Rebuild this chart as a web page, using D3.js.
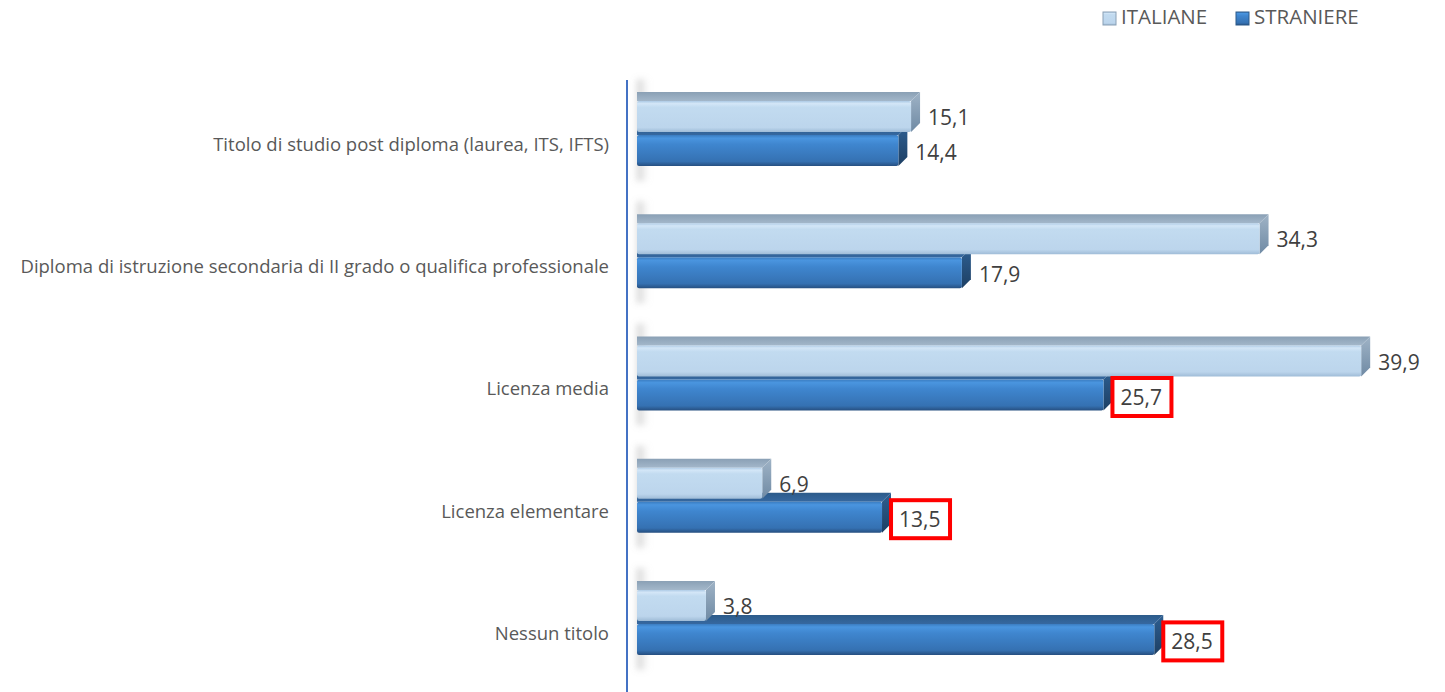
<!DOCTYPE html>
<html>
<head>
<meta charset="utf-8">
<script src="https://cdn.jsdelivr.net/npm/d3@7"></script>
<style>
  body { margin: 0; background: #fff; }
  #chart { width: 1445px; height: 692px; }
  text { font-family: "Open Sans", Lato, sans-serif; }
</style>
</head>
<body>
<div id="chart"></div>
<script>
(function () {

  // categories, top to bottom
  const categories = [
    'Titolo di studio post diploma (laurea, ITS, IFTS)',
    'Diploma di istruzione secondaria di II grado o qualifica professionale',
    'Licenza media',
    'Licenza elementare',
    'Nessun titolo'
  ];
  const series = ['ITALIANE', 'STRANIERE'];
  const italiane = [15.1, 34.3, 39.9, 6.9, 3.8];
  const straniere = [14.4, 17.9, 25.7, 13.5, 28.5];
  // labels boxed in red in the original
  const highlighted = [false, false, true, true, true];

  const width = 1445, height = 692;
  const dx = 9, dy = -9; // 3d depth offset

  const svg = d3.select('#chart').append('svg')
    .attr('width', width)
    .attr('height', height);

  const defs = svg.append('defs');

  function vGrad(id, stops) {
    const g = defs.append('linearGradient').attr('id', id)
      .attr('x1', 0).attr('y1', 0).attr('x2', 0).attr('y2', 1);
    stops.forEach(s => g.append('stop').attr('offset', s[0]).attr('stop-color', s[1]));
  }
  vGrad('lightFront', [[0, '#aecbe6'], [0.08, '#d3e6f7'], [0.2, '#c2dbf0'], [0.85, '#bcd5ec'], [1, '#9fbcd7']]);
  vGrad('lightTop', [[0, '#8aa0b5'], [1, '#a3b7ca']]);
  vGrad('lightSide', [[0, '#9fb3c6'], [1, '#6f8aa4']]);
  vGrad('darkFront', [[0, '#3a7cc0'], [0.1, '#4a95df'], [0.3, '#3f86cf'], [0.85, '#3571b2'], [1, '#264f80']]);
  vGrad('darkTop', [[0, '#2c5b8a'], [1, '#3668a0']]);
  vGrad('darkSide', [[0, '#2e5f92'], [1, '#1d3f63']]);

  const wall = defs.append('linearGradient').attr('id', 'wallShade')
    .attr('x1', 0).attr('y1', 0).attr('x2', 1).attr('y2', 0);
  wall.append('stop').attr('offset', 0).attr('stop-color', '#8c8c8c').attr('stop-opacity', 0.45);
  wall.append('stop').attr('offset', 1).attr('stop-color', '#bfbfbf').attr('stop-opacity', 0);
  defs.append('filter').attr('id', 'blur')
    .attr('x', -1).attr('y', -0.2).attr('width', 3).attr('height', 1.4)
    .append('feGaussianBlur').attr('stdDeviation', 3);

  // scales
  const x = d3.scaleLinear().domain([0, 40]).range([637, 1363]);
  const y = d3.scaleBand().domain(categories).range([73, 684])
    .paddingInner(0.46).paddingOuter(0.23);
  const ySub = d3.scaleBand().domain(series).range([0, y.bandwidth()]);

  const rows = categories.map((c, i) => ({
    cat: c,
    bars: [
      { key: 'ITALIANE', value: italiane[i], cls: 'light', hl: false },
      { key: 'STRANIERE', value: straniere[i], cls: 'dark', hl: highlighted[i] }
    ]
  }));

  // wall shading near the axis
  svg.append('g').selectAll('rect')
    .data(categories)
    .join('rect')
    .attr('x', x(0))
    .attr('y', d => y(d) - 22)
    .attr('width', 12)
    .attr('height', y.bandwidth() + 36)
    .attr('fill', 'url(#wallShade)')
    .attr('filter', 'url(#blur)');

  // axis line
  svg.append('line')
    .attr('x1', 627).attr('x2', 627)
    .attr('y1', 80).attr('y2', height)
    .attr('stroke', '#4472c4')
    .attr('stroke-width', 2);

  // category labels
  svg.append('g').selectAll('text')
    .data(categories)
    .join('text')
    .attr('x', 609)
    .attr('y', d => y(d) + y.bandwidth() / 2 + 12)
    .attr('text-anchor', 'end')
    .attr('dominant-baseline', 'middle')
    .attr('font-size', 18.5)
    .attr('fill', '#595959')
    .text(d => d);

  const groups = svg.append('g').selectAll('g')
    .data(rows)
    .join('g')
    .attr('transform', d => `translate(0,${y(d.cat)})`);

  const barH = ySub.bandwidth() - 2;

  // draw dark bar first so the light one sits on top of its top face
  const bars = groups.selectAll('g.bar')
    .data(d => d.bars.slice().reverse())
    .join('g')
    .attr('class', 'bar');

  bars.each(function (d) {
    const g = d3.select(this);
    const x0 = x(0), x1 = x(d.value);
    const y0 = ySub(d.key) + (d.key === 'STRANIERE' ? 1 : 0);
    const y1 = y0 + barH;
    // top face
    g.append('path')
      .attr('d', `M${x0},${y0} L${x1},${y0} L${x1 + dx},${y0 + dy} L${x0},${y0 + dy} Z`)
      .attr('fill', `url(#${d.cls}Top)`);
    // side face
    g.append('path')
      .attr('d', `M${x1},${y0} L${x1 + dx},${y0 + dy} L${x1 + dx},${y1 + dy} L${x1},${y1} Z`)
      .attr('fill', `url(#${d.cls}Side)`);
    // front face
    g.append('rect')
      .attr('x', x0).attr('y', y0)
      .attr('width', x1 - x0).attr('height', barH)
      .attr('rx', 2)
      .attr('fill', `url(#${d.cls}Front)`);
  });

  // value labels
  const labels = groups.selectAll('g.lab')
    .data(d => d.bars)
    .join('g')
    .attr('class', 'lab')
    .attr('transform', d => `translate(${x(d.value) + dx + 8},${ySub(d.key) + barH / 2 + (d.key === 'STRANIERE' ? 5 : 3)})`);

  labels.filter(d => d.hl).append('rect')
    .attr('x', -8).attr('y', -21)
    .attr('width', 59).attr('height', 38)
    .attr('fill', '#fff')
    .attr('stroke', '#ff0000')
    .attr('stroke-width', 4);

  labels.append('text')
    .attr('dominant-baseline', 'middle')
    .attr('font-size', 21)
    .attr('fill', '#404040')
    .text(d => d3.format('.1f')(d.value).replace('.', ','));

  // legend
  const legend = svg.append('g').attr('transform', 'translate(1103,18)');
  const legX = [0, 133];
  series.forEach((s, i) => {
    const g = legend.append('g').attr('transform', `translate(${legX[i]},0)`);
    g.append('rect')
      .attr('x', 0).attr('y', -6)
      .attr('width', 13).attr('height', 13)
      .attr('fill', i === 0 ? 'url(#lightFront)' : 'url(#darkFront)')
      .attr('stroke', i === 0 ? '#8aa0b5' : '#2c5b8a')
      .attr('stroke-width', 1);
    g.append('text')
      .attr('x', 18).attr('y', 1)
      .attr('dominant-baseline', 'middle')
      .attr('font-size', 20.5)
      .attr('fill', '#595959')
      .text(s);
  });

})();
</script>
</body>
</html>
